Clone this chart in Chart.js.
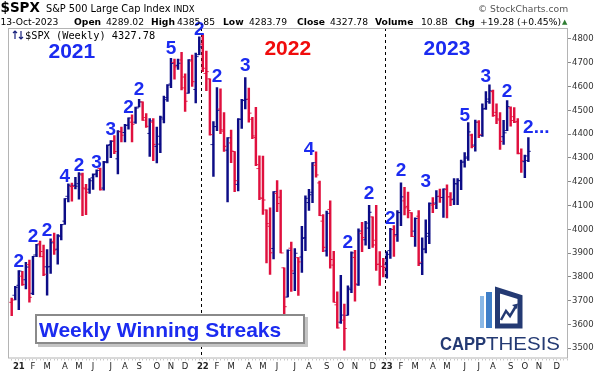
<!DOCTYPE html>
<html><head><meta charset="utf-8">
<script src="https://cdn.jsdelivr.net/npm/chart.js@4/dist/chart.umd.min.js"></script>
<style>
html,body{margin:0;padding:0;background:#fff}
body{width:598px;height:375px;overflow:hidden;position:relative;font-family:'DejaVu Sans',sans-serif}
#c{position:absolute;left:0;top:0}
.a{position:absolute;white-space:nowrap;color:#000}
.l2{top:16.3px;font-size:9.2px;line-height:11px}
.b{font-weight:bold}
#streakbox{position:absolute;left:35px;top:314px;width:264px;height:26px;border:2px solid #8a8a8a;background:#fff;box-shadow:3px 3px 0 #c4c4c4;font:bold 21px 'Liberation Sans',Arial,sans-serif;color:#1b2bf0;line-height:27px;padding-left:2px}
</style></head><body>
<canvas id="c" width="598" height="375"></canvas>

<div class="a" style="left:0.5px;top:-1px;line-height:14px"><span style="font:bold 13.5px 'DejaVu Sans'">$SPX</span><span style="font:9.8px 'DejaVu Sans';margin-left:6px">S&amp;P 500 Large Cap Index</span><span style="font:8.5px 'DejaVu Sans';margin-left:3px">INDX</span></div>
<div class="a" style="left:478px;top:3px;font-size:9.2px;line-height:11px;color:#555">© StockCharts.com</div>
<div class="a l2" style="left:0.5px">13-Oct-2023</div>
<div class="a l2 b" style="left:74px">Open</div>
<div class="a l2" style="left:106px">4289.02</div>
<div class="a l2 b" style="left:151px">High</div>
<div class="a l2" style="left:177px">4385.85</div>
<div class="a l2 b" style="left:223px">Low</div>
<div class="a l2" style="left:249px">4283.79</div>
<div class="a l2 b" style="left:297px">Close</div>
<div class="a l2" style="left:330px">4327.78</div>
<div class="a l2 b" style="left:375px">Volume</div>
<div class="a l2" style="left:421px">10.8B</div>
<div class="a l2 b" style="left:455px">Chg</div>
<div class="a l2" style="left:480px">+19.28 (+0.45%)</div>
<div class="a" style="left:562px;top:18px;font-size:7px;line-height:8px;color:#2e7d32">▲</div>

<svg class="a" style="left:12px;top:30px" width="12" height="10" viewBox="0 0 12 10">
<path d="M3 9V1M1 3l2-2 2 2" stroke="#1a237e" stroke-width="1.2" fill="none"/>
<path d="M9 1v8M7 7l2 2 2-2" stroke="#1a237e" stroke-width="1.2" fill="none"/>
</svg>
<div class="a" style="left:25px;top:28.5px;font:10.3px 'DejaVu Sans Mono',monospace;line-height:12px">$SPX (Weekly) 4327.78</div>

<div id="streakbox">Weekly Winning Streaks</div>

<svg class="a" style="left:438px;top:286px" width="125" height="66" viewBox="0 0 125 66">
<rect x="42" y="10" width="4" height="32" fill="#8ab8e6"/>
<rect x="48" y="6" width="6" height="36" fill="#3f7fc8"/>
<path d="M59.5 4 L82 11 L82 40 L59.5 40 Z" fill="#fff" stroke="#243a73" stroke-width="5" stroke-linejoin="miter"/>
<path d="M63 34 L68 25 L72 30 L78 20" stroke="#243a73" stroke-width="2.5" fill="none"/>
<path d="M74 19 L80 17.5 L79 23 Z" fill="#243a73"/>
<text x="2" y="64" font-family="Liberation Sans, Arial" font-weight="bold" font-size="17.5" fill="#243a73" textLength="46" lengthAdjust="spacingAndGlyphs">CAPP</text>
<text x="48" y="64" font-family="Liberation Sans, Arial" font-size="17.5" fill="#243a73" textLength="74" lengthAdjust="spacingAndGlyphs">THESIS</text>
</svg>

<script>
// ---------- DATA ----------
const weeks = [
 '2020-12-24','2020-12-31',
 '2021-01-08','2021-01-15','2021-01-22','2021-01-29','2021-02-05','2021-02-12','2021-02-19','2021-02-26',
 '2021-03-05','2021-03-12','2021-03-19','2021-03-26','2021-04-02','2021-04-09','2021-04-16','2021-04-23','2021-04-30',
 '2021-05-07','2021-05-14','2021-05-21','2021-05-28','2021-06-04','2021-06-11','2021-06-18','2021-06-25',
 '2021-07-02','2021-07-09','2021-07-16','2021-07-23','2021-07-30','2021-08-06','2021-08-13','2021-08-20','2021-08-27',
 '2021-09-03','2021-09-10','2021-09-17','2021-09-24','2021-10-01','2021-10-08','2021-10-15','2021-10-22','2021-10-29',
 '2021-11-05','2021-11-12','2021-11-19','2021-11-26','2021-12-03','2021-12-10','2021-12-17','2021-12-24','2021-12-31',
 '2022-01-07','2022-01-14','2022-01-21','2022-01-28','2022-02-04','2022-02-11','2022-02-18','2022-02-25',
 '2022-03-04','2022-03-11','2022-03-18','2022-03-25','2022-04-01','2022-04-08','2022-04-14','2022-04-22','2022-04-29',
 '2022-05-06','2022-05-13','2022-05-20','2022-05-27','2022-06-03','2022-06-10','2022-06-17','2022-06-24',
 '2022-07-01','2022-07-08','2022-07-15','2022-07-22','2022-07-29','2022-08-05','2022-08-12','2022-08-19','2022-08-26',
 '2022-09-02','2022-09-09','2022-09-16','2022-09-23','2022-09-30','2022-10-07','2022-10-14','2022-10-21','2022-10-28',
 '2022-11-04','2022-11-11','2022-11-18','2022-11-25','2022-12-02','2022-12-09','2022-12-16','2022-12-23','2022-12-30',
 '2023-01-06','2023-01-13','2023-01-20','2023-01-27','2023-02-03','2023-02-10','2023-02-17','2023-02-24',
 '2023-03-03','2023-03-10','2023-03-17','2023-03-24','2023-03-31','2023-04-06','2023-04-14','2023-04-21','2023-04-28',
 '2023-05-05','2023-05-12','2023-05-19','2023-05-26','2023-06-02','2023-06-09','2023-06-16','2023-06-23','2023-06-30',
 '2023-07-07','2023-07-14','2023-07-21','2023-07-28','2023-08-04','2023-08-11','2023-08-18','2023-08-25',
 '2023-09-01','2023-09-08','2023-09-15','2023-09-22','2023-09-29','2023-10-06','2023-10-13',
 '2023-10-20','2023-10-27','2023-11-03','2023-11-10','2023-11-17','2023-11-24','2023-12-01','2023-12-08','2023-12-15','2023-12-22','2023-12-29'
];
const opens = [
 3693.4,3723.0,
 3764.6,3803.1,3788.0,3851.9,3731.2,3892.6,3939.6,3885.5,3842.5,3844.0,3949.6,3916.5,3969.3,4034.4,4138.8,4179.8,4185.1,
 4191.9,4228.3,4169.9,4168.6,4216.5,4232.9,4255.3,4173.4,4284.9,4356.5,4372.4,4296.4,4409.6,4406.9,4438.2,4450.3,4450.3,
 4513.8,4535.4,4469.7,4402.9,4450.3,4348.8,4358.0,4463.7,4553.7,4610.6,4701.5,4689.3,4712.0,4640.2,4572.2,4707.1,4587.9,4734.0,
 4778.1,4655.3,4632.2,4356.3,4431.8,4505.8,4412.6,4332.7,4363.1,4327.0,4188.8,4462.4,4541.1,4547.0,4462.6,4385.6,4255.3,
 4130.6,4081.3,4013.0,3919.4,4151.1,4134.7,3838.2,3715.3,3920.8,3815.1,3880.9,3883.8,3965.7,4112.4,4155.9,4269.4,4195.1,
 4034.6,3909.4,4083.7,3849.9,3682.7,3609.8,3618.4,3638.7,3746.6,3881.8,3766.7,3982.9,3956.2,4005.4,4052.0,3954.2,3853.8,3843.3,
 3853.3,3910.8,3999.3,3978.1,4070.1,4119.5,4096.6,4069.8,3992.4,4055.2,3855.9,3917.5,3982.9,4102.2,4110.3,4139.3,4134.0,
 4166.8,4137.0,4126.7,4190.8,4204.2,4283.0,4304.0,4396.1,4354.2,4450.5,4394.2,4508.0,4547.4,4578.8,4491.6,4459.6,4389.4,
 4415.2,4510.1,4473.3,4453.5,4318.0,4284.5,4289.02
];
const highs = [
 3711.2,3760.2,
 3826.7,3823.6,3861.5,3870.9,3886.8,3937.1,3950.4,3933.6,3914.5,3960.3,3983.9,3978.2,4020.6,4129.5,4191.3,4194.2,4218.8,
 4238.0,4236.4,4188.7,4213.4,4233.5,4249.7,4257.2,4286.1,4355.0,4372.5,4393.7,4415.2,4430.0,4440.8,4468.0,4481.6,4513.6,
 4545.9,4535.4,4486.7,4465.4,4465.4,4430.0,4475.8,4559.7,4608.1,4718.5,4714.9,4714.9,4743.8,4652.9,4713.6,4732.0,4740.7,4808.9,
 4818.6,4748.8,4632.2,4453.2,4595.3,4590.0,4490.4,4385.0,4416.8,4327.0,4465.4,4546.0,4637.3,4593.5,4471.0,4512.9,4308.5,
 4307.7,4081.3,4090.7,4158.5,4204.3,4164.9,3838.2,3913.7,3945.9,3918.5,3880.9,4012.4,4140.2,4167.7,4280.5,4325.3,4203.0,
 4062.0,4076.8,4119.3,3907.1,3736.7,3806.9,3685.4,3762.8,3905.4,3911.8,4001.5,4028.8,4034.0,4100.5,4052.5,4101.0,3906.0,3878.3,
 3906.0,4004.0,4015.4,4078.5,4195.4,4176.5,4156.0,4069.8,4048.3,4078.5,3964.5,4039.5,4110.8,4133.1,4163.2,4169.5,4170.1,
 4186.9,4154.3,4212.9,4212.9,4290.7,4322.6,4448.5,4400.2,4458.5,4456.5,4527.8,4578.4,4607.1,4584.6,4527.4,4490.3,4458.3,
 4541.3,4514.3,4512.0,4465.5,4338.5,4312.0,4385.85
];
const lows = [
 3636.5,3703.0,
 3662.7,3764.2,3749.6,3694.1,3725.6,3884.9,3884.1,3805.6,3723.3,3814.4,3894.5,3853.5,3955.3,4020.6,4114.8,4118.4,4170.2,
 4127.0,4056.9,4061.4,4150.4,4167.6,4220.3,4164.4,4164.4,4278.9,4300.7,4318.0,4233.1,4367.6,4367.7,4420.4,4367.7,4445.3,
 4513.8,4457.7,4427.8,4305.9,4288.5,4278.9,4322.5,4447.5,4537.4,4595.1,4630.9,4672.2,4585.4,4495.1,4572.2,4600.2,4531.1,4734.0,
 4662.7,4582.2,4395.3,4222.6,4414.0,4401.4,4327.2,4114.7,4279.5,4157.9,4161.7,4424.3,4506.0,4450.0,4381.3,4267.6,4124.9,
 4062.5,3858.9,3810.3,3875.1,4074.4,3900.2,3636.9,3715.3,3738.7,3742.1,3721.6,3818.6,3910.7,4079.8,4112.1,4218.7,4057.7,
 3906.2,3886.8,3837.1,3693.3,3584.1,3604.9,3491.6,3638.7,3733.3,3698.2,3764.5,3906.5,3933.2,3918.4,3923.9,3827.1,3764.5,3800.3,
 3794.3,3877.3,3885.5,3949.1,4015.6,4060.8,4047.8,3968.9,3928.2,3847.5,3808.9,3901.0,3939.6,4069.8,4086.9,4113.2,4049.4,
 4048.3,4098.9,4104.0,4104.0,4166.2,4261.0,4289.5,4341.7,4328.1,4385.1,4389.9,4503.6,4528.6,4474.6,4444.0,4335.3,4356.3,
 4415.0,4433.0,4448.3,4316.5,4238.6,4216.5,4283.79
];
const closes = [
 3703.1,3756.1,
 3824.7,3768.3,3841.5,3714.2,3886.8,3934.8,3906.7,3811.2,3841.9,3943.3,3913.1,3974.5,4019.9,4128.8,4185.5,4180.2,4181.2,
 4232.6,4173.9,4155.9,4204.1,4229.9,4247.4,4166.5,4280.7,4352.3,4369.6,4327.2,4411.8,4395.3,4436.5,4468.0,4441.7,4509.4,
 4535.4,4458.6,4433.0,4455.5,4357.0,4391.3,4471.4,4544.9,4605.4,4697.5,4682.9,4698.0,4594.6,4538.4,4712.0,4620.6,4725.8,4766.2,
 4677.0,4662.9,4397.9,4431.9,4500.5,4418.6,4348.9,4384.7,4328.9,4204.3,4463.1,4543.1,4545.9,4488.3,4392.6,4271.8,4131.9,
 4123.3,4023.9,3901.4,4158.2,4108.5,3900.9,3674.8,3911.7,3825.3,3899.4,3863.2,3961.6,4130.3,4145.2,4280.2,4228.5,4057.7,
 3924.3,4067.4,3873.3,3693.2,3585.6,3639.7,3583.1,3752.8,3901.1,3770.6,3993.0,3965.3,4026.1,4071.7,3934.4,3852.4,3844.8,3839.5,
 3895.1,3999.1,3972.6,4070.6,4136.5,4090.5,4079.1,3970.0,4045.6,3861.6,3916.6,3971.0,4109.3,4105.0,4137.6,4133.5,4169.5,
 4136.3,4124.1,4192.0,4205.5,4282.4,4298.9,4409.6,4348.3,4450.4,4399.0,4505.4,4536.3,4582.2,4478.0,4464.1,4369.7,4405.7,
 4515.8,4457.5,4450.3,4320.1,4288.1,4308.5,4327.78
];
const priorClose = 3709.4;

const monthLetters = ['J','F','M','A','M','J','J','A','S','O','N','D'];
const yearTickLabels = {'2021':'21','2022':'22','2023':'23'};
const priceTicks = [3500,3600,3700,3800,3900,4000,4100,4200,4300,4400,4500,4600,4700,4800];

const streakWeeks = ['2021-01-08','2021-02-05','2021-03-05','2021-04-09','2021-05-07','2021-06-11','2021-07-09','2021-08-13',
 '2021-09-03','2021-11-05','2021-12-31','2022-02-04','2022-04-01','2022-08-05','2022-10-21','2022-12-02',
 '2023-01-13','2023-02-03','2023-03-24','2023-06-09','2023-07-21','2023-09-01','2023-10-13'];
const streakTexts = ['2','2','2','4','2','3','3','2','2','5','2','2','3','4','2','2','2','2','3','5','3','2','2...'];
const streakLevels = [3842,3948,3972,4200,4246,4256,4396,4490,4565,4737,4817,4618,4667,4312,3920,4127,4022,4224,4179,4455,4621,4557,4404];

const yearLabels = ['2021','2022','2023'];
const yearLabelWeeks = ['2021-04-23','2022-06-24','2023-05-05'];
const yearLabelLevels = [4719,4733,4733];
const yearDividerWeeks = ['2022-01-07','2023-01-06'];

// ---------- DERIVED ----------
const UP = '#0c0c86', DOWN = '#e0103e';
const isUp = closes.map((c,i) => c >= (i === 0 ? priorClose : closes[i-1]));
function midMonth(d){ const t = new Date(d + 'T12:00:00Z'); t.setUTCDate(t.getUTCDate()-2); return t; }
const tickText = weeks.map((w,i) => {
  if (i === 0) return '';
  const a = midMonth(weeks[i-1]), b = midMonth(w);
  if (a.getUTCMonth() === b.getUTCMonth()) return '';
  return b.getUTCMonth() === 0 ? yearTickLabels[String(b.getUTCFullYear())] : monthLetters[b.getUTCMonth()];
});

function tickImg(color, side){
  const c = document.createElement('canvas'); c.width = 6; c.height = 3;
  const g = c.getContext('2d'); g.fillStyle = color;
  if (side === 'L') g.fillRect(0.5,1,2.6,1); else g.fillRect(2.9,1,2.6,1);
  return c;
}
const imgs = {L:{up:tickImg(UP,'L'),dn:tickImg(DOWN,'L')}, R:{up:tickImg(UP,'R'),dn:tickImg(DOWN,'R')}};

const rangeData = closes.map((_,i) => ({x:i, y:[lows[i], highs[i]]}));
const openData = opens.map((v,i) => ({x:i, y:v}));
const closeData = closes.map((v,i) => ({x:i, y:v}));

const overlay = {
  id:'overlay',
  beforeDatasetsDraw(chart){
    const {ctx, chartArea:a, scales:{x}} = chart;
    ctx.save();
    ctx.strokeStyle = '#000'; ctx.lineWidth = 1; ctx.setLineDash([3,3]);
    yearDividerWeeks.forEach(w => {
      const px = Math.round(x.getPixelForValue(weeks.indexOf(w) - 0.5)) + 0.5;
      ctx.beginPath(); ctx.moveTo(px, a.top); ctx.lineTo(px, a.bottom); ctx.stroke();
    });
    ctx.restore();
  },
  afterDatasetsDraw(chart){
    const {ctx, chartArea:a, scales:{x,y}} = chart;
    ctx.save();
    ctx.strokeStyle = '#b4b4b4'; ctx.lineWidth = 1;
    ctx.strokeRect(a.left + 0.5, a.top + 0.5, a.right - a.left - 1, a.bottom - a.top - 1);
    ctx.textBaseline = 'alphabetic';
    ctx.font = 'bold 19px "Liberation Sans", Arial, sans-serif';
    ctx.fillStyle = '#1b2bf0';
    streakWeeks.forEach((w,k) => {
      const px = x.getPixelForValue(weeks.indexOf(w));
      const py = y.getPixelForValue(streakLevels[k]);
      const t = streakTexts[k];
      const half = ctx.measureText(t.charAt(0)).width / 2;
      ctx.textAlign = 'left';
      ctx.fillText(t, px - half, py);
    });
    ctx.font = 'bold 21px "Liberation Sans", Arial, sans-serif';
    ctx.textAlign = 'center';
    yearLabels.forEach((t,k) => {
      ctx.fillStyle = t === '2022' ? '#f00c0c' : '#1b2bf0';
      ctx.fillText(t, x.getPixelForValue(weeks.indexOf(yearLabelWeeks[k])), y.getPixelForValue(yearLabelLevels[k]));
    });
    ctx.restore();
  }
};

new Chart(document.getElementById('c'), {
  type:'bar',
  data:{
    datasets:[
      {type:'bar', data:rangeData, backgroundColor:(c)=>isUp[c.dataIndex]?UP:DOWN, barThickness:1.8, borderWidth:0, order:3},
      {type:'scatter', data:openData, pointRadius:2, pointStyle:(c)=>isUp[c.dataIndex]?imgs.L.up:imgs.L.dn, order:1},
      {type:'scatter', data:closeData, pointRadius:2, pointStyle:(c)=>isUp[c.dataIndex]?imgs.R.up:imgs.R.dn, order:2}
    ]
  },
  options:{
    responsive:false, animation:false, events:[],
    layout:{padding:{left:8, top:28, right:0, bottom:0}},
    plugins:{legend:{display:false}, tooltip:{enabled:false}},
    scales:{
      x:{
        type:'linear', min:-1.05, max:weeks.length - 0.8, offset:false,
        afterBuildTicks:(s)=>{ s.ticks = weeks.map((_,i)=>({value:i})); },
        afterFit:(s)=>{ s.height = 16.5; },
        border:{display:false},
        grid:{drawOnChartArea:false, drawTicks:true, tickLength:2, color:'#c8c8c8', offset:false},
        ticks:{autoSkip:false, maxRotation:0, padding:1, color:'#222',
          callback:(v)=>tickText[v] || '',
          font:(c)=>({family:'DejaVu Sans', size:8.5, weight: /^\d/.test(c.tick && c.tick.label || '') ? 'bold' : 'normal'})}
      },
      y:{
        type:'linear', position:'right', min:3457, max:4846,
        afterBuildTicks:(s)=>{ s.ticks = priceTicks.map(v=>({value:v})); },
        afterFit:(s)=>{ s.width = 30; },
        border:{display:false},
        grid:{drawOnChartArea:false, drawTicks:true, tickLength:3, color:'#888'},
        ticks:{padding:1, color:'#333', font:{family:'DejaVu Sans', size:8.5}, callback:(v)=>String(v)}
      }
    }
  },
  plugins:[overlay]
});
</script>
</body></html>
